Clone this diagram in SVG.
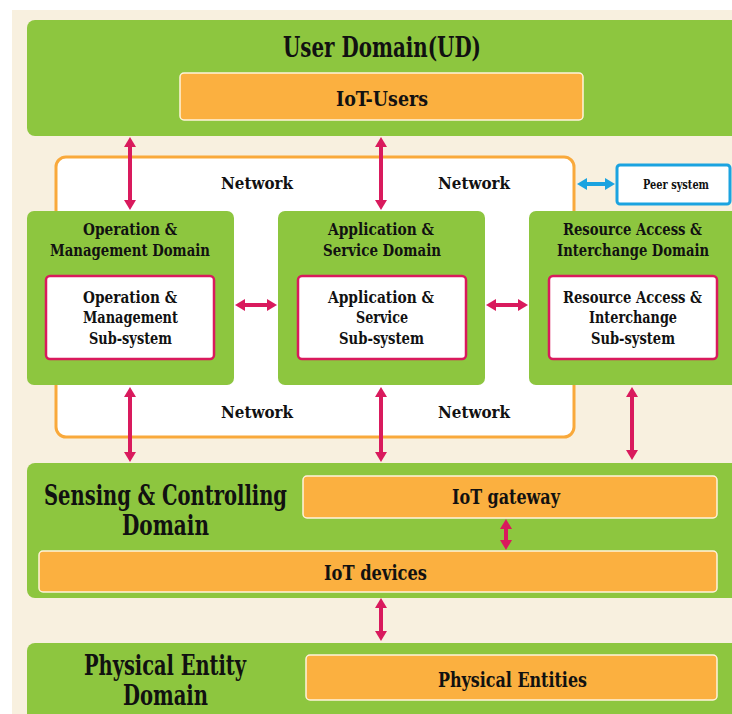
<svg xmlns="http://www.w3.org/2000/svg" width="732" height="714" viewBox="0 0 732 714">
  <defs>
    <style>
      .bg { fill: #F8F0DF; }
      .green { fill: #8DC63F; }
      .orange { fill: #FBB040; stroke: #FFF3DC; stroke-width: 1.5; }
      .sub { fill: #FFFFFF; stroke: #D91A5D; stroke-width: 2.5; }
      .net { fill: #FFFFFF; stroke: #F9A93B; stroke-width: 3; }
      .peer { fill: #FFFFFF; stroke: #1BA3E0; stroke-width: 3; }
      text { font-family: "DejaVu Serif Condensed", "DejaVu Serif", serif; font-stretch: condensed; font-weight: bold; fill: #111111; text-anchor: middle; }
      .big { font-size: 27px; }
      .mid { font-size: 20px; }
      .lab { font-size: 16.5px; }
      .small { font-size: 13px; }
      .link { stroke: #D91A5D; stroke-width: 4; fill: none; marker-start: url(#head); marker-end: url(#head); }
      .peerlink { stroke: #1BA3E0; stroke-width: 4; fill: none; marker-start: url(#headBlue); marker-end: url(#headBlue); }
    </style>
    <marker id="head" viewBox="0 0 10 12" refX="2" refY="6" markerWidth="10" markerHeight="12" markerUnits="userSpaceOnUse" orient="auto-start-reverse">
      <path d="M0,0 L10,6 L0,12 z" fill="#D91A5D"/>
    </marker>
    <marker id="headBlue" viewBox="0 0 10 12" refX="2" refY="6" markerWidth="10" markerHeight="12" markerUnits="userSpaceOnUse" orient="auto-start-reverse">
      <path d="M0,0 L10,6 L0,12 z" fill="#1BA3E0"/>
    </marker>
  </defs>

  <rect x="0" y="0" width="732" height="714" fill="#FFFFFF"/>
  <rect class="bg" x="12" y="10" width="720" height="704"/>

  <!-- network cloud frame -->
  <g id="network">
    <rect class="net" x="56" y="157" width="518" height="280" rx="10"/>
    <text class="lab" x="257" y="189" textLength="72" lengthAdjust="spacingAndGlyphs">Network</text>
    <text class="lab" x="474" y="189" textLength="72" lengthAdjust="spacingAndGlyphs">Network</text>
    <text class="lab" x="257" y="418" textLength="72" lengthAdjust="spacingAndGlyphs">Network</text>
    <text class="lab" x="474" y="418" textLength="72" lengthAdjust="spacingAndGlyphs">Network</text>
  </g>

  <g id="user-domain">
    <rect class="green" x="27" y="20" width="712" height="116" rx="8"/>
    <text class="big" x="382" y="57" textLength="198" lengthAdjust="spacingAndGlyphs">User Domain(UD)</text>
    <rect class="orange" x="180" y="73" width="403" height="47" rx="4"/>
    <text class="mid" x="382" y="106" textLength="92" lengthAdjust="spacingAndGlyphs">IoT-Users</text>
  </g>

  <g id="peer-system">
    <rect class="peer" x="617" y="165" width="113" height="39" rx="3"/>
    <text class="small" x="676" y="189" textLength="66" lengthAdjust="spacingAndGlyphs">Peer system</text>
  </g>

  <g id="om-domain">
    <rect class="green" x="27" y="211" width="207" height="174" rx="7"/>
    <text class="lab" x="130" y="235" textLength="94" lengthAdjust="spacingAndGlyphs">Operation &amp;</text>
    <text class="lab" x="130" y="256" textLength="160" lengthAdjust="spacingAndGlyphs">Management Domain</text>
    <rect class="sub" x="46" y="276" width="168" height="83" rx="4"/>
    <text class="lab" x="130" y="303" textLength="94" lengthAdjust="spacingAndGlyphs">Operation &amp;</text>
    <text class="lab" x="130.5" y="323" textLength="95" lengthAdjust="spacingAndGlyphs">Management</text>
    <text class="lab" x="130.5" y="344" textLength="83" lengthAdjust="spacingAndGlyphs">Sub-system</text>
  </g>

  <g id="as-domain">
    <rect class="green" x="278" y="211" width="207" height="174" rx="7"/>
    <text class="lab" x="381" y="235" textLength="106" lengthAdjust="spacingAndGlyphs">Application &amp;</text>
    <text class="lab" x="382" y="256" textLength="118" lengthAdjust="spacingAndGlyphs">Service Domain</text>
    <rect class="sub" x="298" y="276" width="168" height="83" rx="4"/>
    <text class="lab" x="381" y="303" textLength="106" lengthAdjust="spacingAndGlyphs">Application &amp;</text>
    <text class="lab" x="382" y="323" textLength="52" lengthAdjust="spacingAndGlyphs">Service</text>
    <text class="lab" x="381.5" y="344" textLength="85" lengthAdjust="spacingAndGlyphs">Sub-system</text>
  </g>

  <g id="rai-domain">
    <rect class="green" x="529" y="211" width="203" height="174" rx="7"/>
    <rect class="green" x="700" y="211" width="32" height="174"/>
    <text class="lab" x="632.5" y="235" textLength="139" lengthAdjust="spacingAndGlyphs">Resource Access &amp;</text>
    <text class="lab" x="633" y="256" textLength="152" lengthAdjust="spacingAndGlyphs">Interchange Domain</text>
    <rect class="sub" x="549" y="276" width="168" height="83" rx="4"/>
    <text class="lab" x="632.5" y="303" textLength="139" lengthAdjust="spacingAndGlyphs">Resource Access &amp;</text>
    <text class="lab" x="633" y="323" textLength="88" lengthAdjust="spacingAndGlyphs">Interchange</text>
    <text class="lab" x="633" y="344" textLength="84" lengthAdjust="spacingAndGlyphs">Sub-system</text>
  </g>

  <g id="sensing-domain">
    <rect class="green" x="27" y="463" width="712" height="135" rx="8"/>
    <text class="big" x="165.5" y="505" textLength="243" lengthAdjust="spacingAndGlyphs">Sensing &amp; Controlling</text>
    <text class="big" x="165.5" y="535" textLength="87" lengthAdjust="spacingAndGlyphs">Domain</text>
    <rect class="orange" x="303" y="476" width="414" height="42" rx="4"/>
    <text class="mid" x="506" y="504" textLength="108" lengthAdjust="spacingAndGlyphs">IoT gateway</text>
    <rect class="orange" x="39" y="551" width="678" height="41" rx="4"/>
    <text class="mid" x="375.5" y="580" textLength="103" lengthAdjust="spacingAndGlyphs">IoT devices</text>
  </g>

  <g id="physical-domain">
    <rect class="green" x="27" y="643" width="712" height="80" rx="8"/>
    <text class="big" x="165" y="675" textLength="162" lengthAdjust="spacingAndGlyphs">Physical Entity</text>
    <text class="big" x="165.5" y="705" textLength="85" lengthAdjust="spacingAndGlyphs">Domain</text>
    <rect class="orange" x="306" y="655" width="411" height="45" rx="4"/>
    <text class="mid" x="512.5" y="687" textLength="149" lengthAdjust="spacingAndGlyphs">Physical Entities</text>
  </g>

  <g id="connectors">
    <line class="link" x1="130" y1="145" x2="130" y2="202"/>
    <line class="link" x1="381" y1="145" x2="381" y2="202"/>
    <line class="link" x1="243" y1="305" x2="269" y2="305"/>
    <line class="link" x1="494" y1="305" x2="520" y2="305"/>
    <line class="link" x1="130" y1="395" x2="130" y2="454"/>
    <line class="link" x1="381" y1="395" x2="381" y2="454"/>
    <line class="link" x1="632" y1="395" x2="632" y2="452"/>
    <line class="link" x1="506" y1="527" x2="506" y2="542"/>
    <line class="link" x1="381" y1="606" x2="381" y2="633"/>
    <line class="peerlink" x1="585" y1="184" x2="607" y2="184"/>
  </g>
</svg>
